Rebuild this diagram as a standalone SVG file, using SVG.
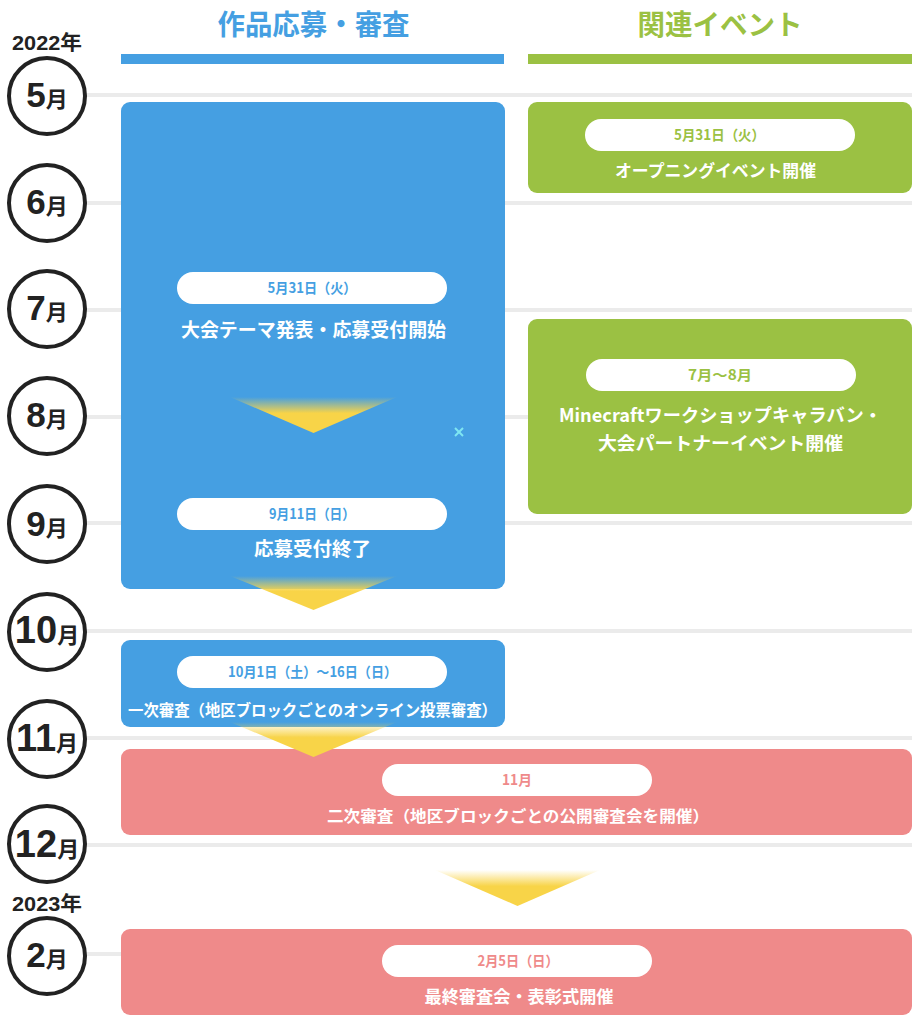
<svg xmlns="http://www.w3.org/2000/svg" width="922" height="1025" viewBox="0 0 922 1025">
<defs>
<linearGradient id="ya" x1="0" y1="0" x2="0" y2="1">
<stop offset="0" stop-color="#f8d448" stop-opacity="0"/>
<stop offset="0.45" stop-color="#f8d448" stop-opacity="1"/>
<stop offset="1" stop-color="#f8d448" stop-opacity="1"/>
</linearGradient>
</defs>
<style>
.jp{font-family:"Noto Sans CJK JP","Noto Sans",sans-serif;font-weight:bold}
.hd{font-size:28px;text-anchor:middle}
.gl{stroke:#ebebeb;stroke-width:4}
.mc{fill:#fff;stroke:#222;stroke-width:4}
.mt{fill:#222;text-anchor:middle}
.dg{font-family:"Liberation Sans",Arial,sans-serif;font-weight:bold;font-size:35px}
.dg2{font-family:"Liberation Sans",Arial,sans-serif;font-weight:bold;font-size:38px}
.mo{font-family:"Noto Sans CJK JP",sans-serif;font-weight:bold;font-size:22px}
.yr{font-family:"Liberation Sans","Noto Sans CJK JP",sans-serif;font-weight:bold;font-size:20px;fill:#222;text-anchor:middle}
.blue{fill:#459fe2}
.green{fill:#9bc143}
.pink{fill:#ef8a8a}
.pill{fill:#fff}
.pt{font-size:14px;text-anchor:middle}
.wt{fill:#fff;text-anchor:middle}
.arr{fill:url(#ya)}
</style>
<rect width="922" height="1025" fill="#fff"/>
<g id="headers">
<text class="jp hd" x="313.5" y="35" fill="#459fe2" textLength="192" lengthAdjust="spacingAndGlyphs">作品応募・審査</text>
<rect x="121" y="54" width="383" height="10" fill="#459fe2"/>
<text class="jp hd" x="720" y="35" fill="#9bc143" textLength="165" lengthAdjust="spacingAndGlyphs">関連イベント</text>
<rect x="528" y="54" width="384" height="10" fill="#9bc143"/>
</g>
<g id="gridlines">
<line class="gl" x1="47" y1="95" x2="912" y2="95"/>
<line class="gl" x1="47" y1="203" x2="912" y2="203"/>
<line class="gl" x1="47" y1="310" x2="912" y2="310"/>
<line class="gl" x1="47" y1="417" x2="912" y2="417"/>
<line class="gl" x1="47" y1="523" x2="912" y2="523"/>
<line class="gl" x1="47" y1="631" x2="912" y2="631"/>
<line class="gl" x1="47" y1="738" x2="912" y2="738"/>
<line class="gl" x1="47" y1="845" x2="912" y2="845"/>
<line class="gl" x1="47" y1="954" x2="912" y2="954"/>
</g>
<g id="months">
<text class="yr" x="47" y="50" textLength="70" lengthAdjust="spacingAndGlyphs">2022年</text>
<circle class="mc" cx="47" cy="96" r="38"/><text class="mt" x="47" y="107"><tspan class="dg">5</tspan><tspan class="mo">月</tspan></text>
<circle class="mc" cx="47" cy="203" r="38"/><text class="mt" x="47" y="214"><tspan class="dg">6</tspan><tspan class="mo">月</tspan></text>
<circle class="mc" cx="47" cy="309" r="38"/><text class="mt" x="47" y="320"><tspan class="dg">7</tspan><tspan class="mo">月</tspan></text>
<circle class="mc" cx="47" cy="416" r="38"/><text class="mt" x="47" y="427"><tspan class="dg">8</tspan><tspan class="mo">月</tspan></text>
<circle class="mc" cx="47" cy="524" r="38"/><text class="mt" x="47" y="536"><tspan class="dg">9</tspan><tspan class="mo">月</tspan></text>
<circle class="mc" cx="47" cy="632" r="38"/><text class="mt" x="47" y="643"><tspan class="dg2">10</tspan><tspan class="mo">月</tspan></text>
<circle class="mc" cx="47" cy="739" r="38"/><text class="mt" x="47" y="751"><tspan class="dg2">11</tspan><tspan class="mo">月</tspan></text>
<circle class="mc" cx="47" cy="844" r="38"/><text class="mt" x="47" y="857"><tspan class="dg2">12</tspan><tspan class="mo">月</tspan></text>
<text class="yr" x="47" y="911" textLength="70" lengthAdjust="spacingAndGlyphs">2023年</text>
<circle class="mc" cx="47" cy="956" r="38"/><text class="mt" x="47" y="967"><tspan class="dg">2</tspan><tspan class="mo">月</tspan></text>
</g>
<g id="node-apply">
<rect class="blue" x="121" y="102" width="384" height="487" rx="9"/>
<rect class="pill" x="177" y="272" width="270" height="32" rx="16"/>
<text class="jp pt" x="312" y="293" fill="#459fe2" textLength="89" lengthAdjust="spacingAndGlyphs">5月31日（火）</text>
<text class="jp wt" x="313.5" y="337" font-size="19" textLength="265" lengthAdjust="spacingAndGlyphs">大会テーマ発表・応募受付開始</text>
<rect class="pill" x="177" y="498" width="270" height="32" rx="16"/>
<text class="jp pt" x="312" y="519" fill="#459fe2" textLength="86" lengthAdjust="spacingAndGlyphs">9月11日（日）</text>
<text class="jp wt" x="312.5" y="556" font-size="19" textLength="117" lengthAdjust="spacingAndGlyphs">応募受付終了</text>
</g>
<g id="node-first">
<rect class="blue" x="121" y="640" width="384" height="87" rx="9"/>
<rect class="pill" x="177" y="656" width="270" height="32" rx="16"/>
<text class="jp pt" x="312.5" y="677" fill="#459fe2" textLength="169" lengthAdjust="spacingAndGlyphs">10月1日（土）〜16日（日）</text>
<text class="jp wt" x="312.5" y="716" font-size="16" textLength="369" lengthAdjust="spacingAndGlyphs">一次審査（地区ブロックごとのオンライン投票審査）</text>
</g>
<g id="node-opening">
<rect class="green" x="528" y="102" width="384" height="91" rx="9"/>
<rect class="pill" x="585" y="119" width="270" height="32" rx="16"/>
<text class="jp pt" x="719.5" y="140" fill="#9bc143" textLength="91" lengthAdjust="spacingAndGlyphs">5月31日（火）</text>
<text class="jp wt" x="715.5" y="177" font-size="17" textLength="201" lengthAdjust="spacingAndGlyphs">オープニングイベント開催</text>
</g>
<g id="node-caravan">
<rect class="green" x="528" y="319" width="384" height="195" rx="9"/>
<rect class="pill" x="586" y="359" width="270" height="32" rx="16"/>
<text class="jp pt" x="720" y="380" fill="#9bc143" textLength="64" lengthAdjust="spacingAndGlyphs">7月〜8月</text>
<text class="jp wt" x="720.5" y="422" font-size="18" textLength="323" lengthAdjust="spacingAndGlyphs">Minecraftワークショップキャラバン・</text>
<text class="jp wt" x="720.5" y="450" font-size="18" textLength="245" lengthAdjust="spacingAndGlyphs">大会パートナーイベント開催</text>
</g>
<g id="node-second">
<rect class="pink" x="121" y="749" width="791" height="86" rx="9"/>
<rect class="pill" x="382" y="764" width="270" height="32" rx="16"/>
<text class="jp pt" x="517" y="785" fill="#ef8a8a" textLength="30" lengthAdjust="spacingAndGlyphs">11月</text>
<text class="jp wt" x="518" y="822" font-size="16" textLength="382" lengthAdjust="spacingAndGlyphs">二次審査（地区ブロックごとの公開審査会を開催）</text>
</g>
<g id="node-final">
<rect class="pink" x="121" y="929" width="791" height="86" rx="9"/>
<rect class="pill" x="382" y="945" width="270" height="32" rx="16"/>
<text class="jp pt" x="518" y="966" fill="#ef8a8a" textLength="81" lengthAdjust="spacingAndGlyphs">2月5日（日）</text>
<text class="jp wt" x="519" y="1003" font-size="17" textLength="189" lengthAdjust="spacingAndGlyphs">最終審査会・表彰式開催</text>
</g>
<g id="connectors">
<polygon class="arr" points="230,397 397,397 313.5,433"/>
<polygon class="arr" points="230,576 397,576 313.5,610"/>
<polygon class="arr" points="230,722 397,722 313.5,757"/>
<polygon class="arr" points="435,870 600,870 517.5,906"/>
</g>
<g id="mark" stroke="#7fe6f2" stroke-width="2">
<line x1="455" y1="428" x2="463" y2="436"/>
<line x1="463" y1="428" x2="455" y2="436"/>
</g>
</svg>
